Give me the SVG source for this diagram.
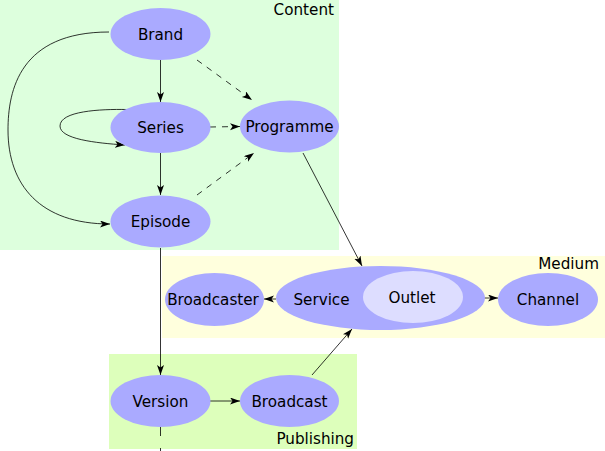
<svg xmlns="http://www.w3.org/2000/svg" width="605" height="451" viewBox="0 0 605 451">
<style>
.bg{stroke:none}
.n{fill:#aaaaff;stroke:none}
.t{font-family:"DejaVu Sans",sans-serif;font-size:15.2px;fill:#000;text-anchor:middle}
.lbl{font-family:"DejaVu Sans",sans-serif;font-size:15.2px;fill:#000;text-anchor:end}
.e{fill:none;stroke:#000;stroke-width:0.8;marker-end:url(#ah)}
.d{stroke-dasharray:6,6}
</style>
<defs>
<marker id="ah" markerUnits="userSpaceOnUse" markerWidth="11" markerHeight="8" refX="10" refY="3.5" orient="auto">
<path d="M0,0 L10,3.5 L0,7 L2.5,3.5 z" fill="#000"/>
</marker>
</defs>
<g id="clusters">
<rect class="bg" x="0" y="0" width="339" height="250" fill="#ddffdd"/>
<rect class="bg" x="162" y="256" width="443" height="82" fill="#ffffdd"/>
<rect class="bg" x="109" y="354" width="248" height="95" fill="#ddffbb"/>
<text class="lbl" x="334" y="15">Content</text>
<text class="lbl" x="599" y="269">Medium</text>
<text class="lbl" x="354" y="444">Publishing</text>
</g>
<g id="connectors">
<line class="e" x1="160.5" y1="60" x2="160.5" y2="102"/>
<line class="e" x1="160.5" y1="153" x2="160.5" y2="195"/>
<path class="e" d="M109,32 C20,32 8,90 8,130 C8,185 40,224 110,224"/>
<path class="e" d="M127,109.5 C100,109 60,111 60,126 C60,139 95,143 125,145"/>
<line class="e d" x1="197" y1="60" x2="252" y2="100"/>
<line class="e d" x1="210" y1="127" x2="240" y2="126.5"/>
<line class="e d" x1="197" y1="195" x2="254" y2="153"/>
<line class="e" x1="303" y1="153" x2="362" y2="266"/>
<line class="e" x1="160.5" y1="248" x2="160.5" y2="375"/>
<line class="e" x1="210" y1="401" x2="240" y2="401"/>
<line class="e" x1="312" y1="375" x2="352" y2="329"/>
<line class="e" x1="276" y1="299" x2="264" y2="299"/>
<line class="e" x1="463" y1="298" x2="498" y2="298"/>
<line x1="160.5" y1="427" x2="160.5" y2="451" stroke="#000" stroke-width="0.8" stroke-dasharray="9,12"/>
</g>
<g id="Brand"><ellipse class="n" cx="160.5" cy="34" rx="50" ry="26"/><text class="t" x="160.5" y="40">Brand</text></g>
<g id="Series"><ellipse class="n" cx="160.5" cy="127.5" rx="50" ry="25.5"/><text class="t" x="160.5" y="133">Series</text></g>
<g id="Programme"><ellipse class="n" cx="289.5" cy="126.5" rx="49.5" ry="26"/><text class="t" x="289.5" y="132">Programme</text></g>
<g id="Episode"><ellipse class="n" cx="160.5" cy="221.5" rx="50" ry="26"/><text class="t" x="160.5" y="227">Episode</text></g>
<g id="Version"><ellipse class="n" cx="160.5" cy="401" rx="50" ry="26"/><text class="t" x="160.5" y="406.5">Version</text></g>
<g id="Broadcast"><ellipse class="n" cx="289.5" cy="401" rx="49.5" ry="26"/><text class="t" x="289.5" y="406.5">Broadcast</text></g>
<g id="Broadcaster"><ellipse class="n" cx="214.5" cy="299.5" rx="49.5" ry="26.5"/><text class="t" x="213" y="304.5">Broadcaster</text></g>
<g id="Service"><ellipse class="n" cx="380.5" cy="298" rx="104.5" ry="32"/><text class="t" x="321.5" y="305">Service</text>
<g id="Outlet"><ellipse cx="413" cy="297" rx="50" ry="26" fill="#ddddff"/><text class="t" x="412" y="303">Outlet</text></g></g>
<g id="Channel"><ellipse class="n" cx="548" cy="299.5" rx="50" ry="26.5"/><text class="t" x="548" y="305">Channel</text></g>
</svg>
